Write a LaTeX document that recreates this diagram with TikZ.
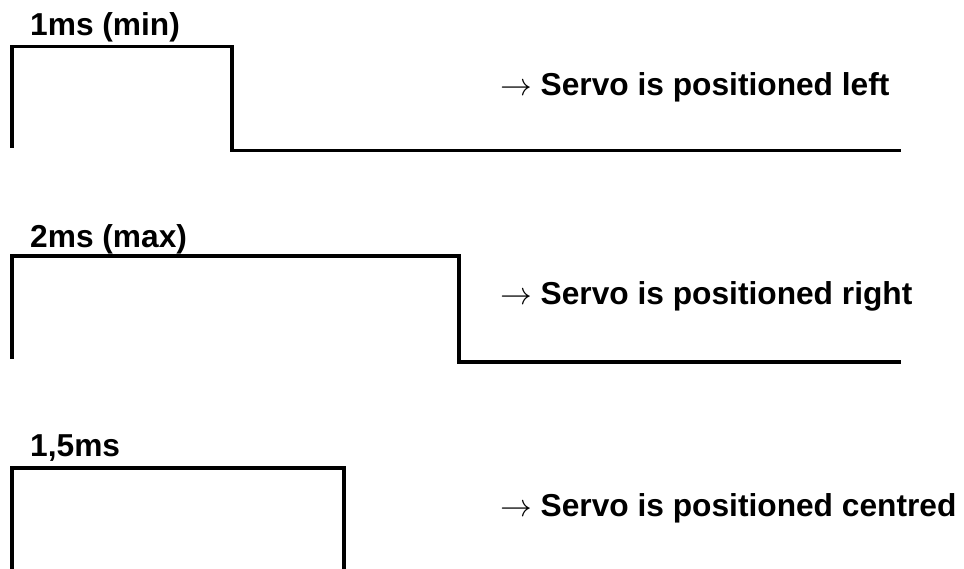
\RequirePackage{fix-cm}
\documentclass[tikz,border=0pt]{standalone}
\usepackage{fontspec}
\setmainfont{Liberation Sans}
\begin{document}
\begin{tikzpicture}[x=1pt,y=-1pt,
  wave/.style={line width=3.2pt,line join=miter,line cap=butt},
  lbl/.style={anchor=base west,inner sep=0pt,font=\fontsize{31.7}{38}\selectfont\bfseries}]
\clip (0,0) rectangle (964,569);
\fill[white] (0,0) rectangle (964,569);
% signal 1
\draw[wave] (12,148) -- (12,46.5) -- (232,46.5) -- (232,150.7) -- (901,150.7);
\node[lbl] (t1) at (30,36) {1ms (min)};
\node[lbl] (r1) at (500,96) {$\rightarrow$ Servo is positioned left};
% signal 2
\draw[wave] (12,358.5) -- (12,256) -- (459,256) -- (459,362) -- (901,362);
\node[lbl] (t2) at (30,248) {2ms (max)};
\node[lbl] (r2) at (500,305) {$\rightarrow$ Servo is positioned right};
% signal 3
\draw[wave] (12,575) -- (12,468) -- (344,468) -- (344,575);
\node[lbl] (t3) at (30,456) {1,5ms};
\node[lbl] (r3) at (500,516) {$\rightarrow$ Servo is positioned centred};
\end{tikzpicture}
\end{document}
